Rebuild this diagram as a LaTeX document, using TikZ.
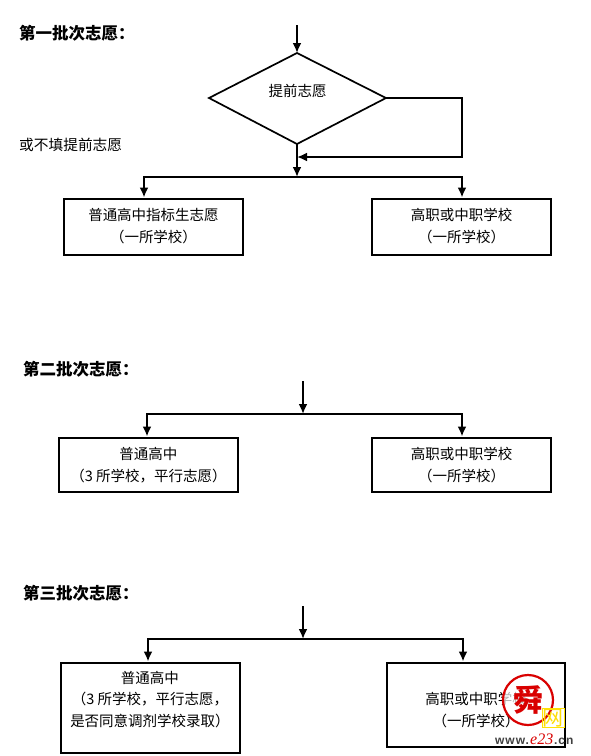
\documentclass[tikz,border=0pt]{standalone}
\usepackage{fontspec}
\usetikzlibrary{shapes.geometric,arrows.meta,positioning}
\setmainfont{Noto Sans CJK SC}
\newfontfamily\wmfont[LetterSpace=8]{Liberation Sans}
\newfontfamily\wmserif{Liberation Serif}
\begin{document}
\begin{tikzpicture}[x=1pt,y=-1pt,
  line/.style={draw=black,line width=2pt},
  arr/.style={line,-{Latex[length=10pt,width=9pt]}},
  boxn/.style={line,rectangle,inner sep=0pt,align=center,font=\fontsize{14.5}{22}\selectfont,anchor=north west},
  txt/.style={inner sep=0pt,align=center,font=\fontsize{14.5}{21.5}\selectfont},
  head/.style={anchor=west,font=\fontsize{16.5}{18}\selectfont\bfseries,inner sep=0pt},
  lab/.style={anchor=west,font=\fontsize{14.7}{16}\selectfont,inner sep=0pt}]
\useasboundingbox (0,0) rectangle (590,756);
\fill[white] (0,0) rectangle (590,756);

\node[head] (h1) at (19,33) {第一批次志愿：};
\node[head] (h2) at (23,369) {第二批次志愿：};
\node[head] (h3) at (23,593) {第三批次志愿：};
\node[lab] (or) at (19,144.5) {或不填提前志愿};

% first batch
\coordinate (t1) at (297,25);
\coordinate (dt) at (297,53);
\coordinate (dl) at (209,98);
\coordinate (dr) at (386,98);
\coordinate (db) at (297,144);
\draw[line,line width=1.7pt,line join=miter] (dt) -- (dr) -- (db) -- (dl) -- cycle;
\node[txt] (d) at (297.5,90.5) {提前志愿};
\draw[arr] (t1) -- (dt);
\coordinate (bus1) at (297,177);
\coordinate (ret) at (297,157);
\draw[arr] (db) -- (bus1);
\draw[arr] (dr) -- (462,98) -- (462,157) -- (ret);
\node[boxn,minimum width=179pt,minimum height=56pt] (a1) at (63,197.5) {普通高中指标生志愿\\（一所学校）};
\node[boxn,minimum width=179pt,minimum height=56pt] (a2) at (371,197.5) {高职或中职学校\\（一所学校）};
\draw[arr] (bus1) -| (a1.north -| 144,0);
\draw[arr] (bus1) -| (a2.north -| 462,0);

% second batch
\coordinate (t2) at (303,381);
\coordinate (bus2) at (303,414);
\draw[arr] (t2) -- (bus2);
\node[boxn,minimum width=179pt,minimum height=54.5pt] (b1) at (58,436.5) {普通高中\\（3 所学校，平行志愿）};
\node[boxn,minimum width=179pt,minimum height=54.5pt] (b2) at (371,436.5) {高职或中职学校\\（一所学校）};
\draw[arr] (bus2) -| (b1.north -| 147,0);
\draw[arr] (bus2) -| (b2.north -| 462,0);

% third batch
\coordinate (t3) at (303,606);
\coordinate (bus3) at (303,639);
\draw[arr] (t3) -- (bus3);
\node[boxn,minimum width=179pt,minimum height=90pt] (c1) at (60,661.5) {};
\node[txt] (c1t) at (150,699.5) {普通高中\\（3 所学校，平行志愿，\\是否同意调剂学校录取）};
\node[boxn,minimum width=178pt,minimum height=84pt] (c2) at (386,661.5) {};
\node[txt] (c2t) at (476,710) {高职或中职学校\\（一所学校）};
\draw[arr] (bus3) -| (c1.north -| 148,0);
\draw[arr] (bus3) -| (c2.north -| 463,0);

% watermark
\node[circle,draw=red!85!black,line width=2.2pt,fill=white,fill opacity=0.7,text opacity=1,minimum size=50pt,inner sep=0pt,text=red!85!black,font=\fontsize{30}{30}\selectfont\bfseries] (stamp) at (528,700) {舜};
\node[draw=yellow!85!orange,line width=1pt,text=yellow!80!orange,inner sep=0.5pt,font=\fontsize{21}{21}\selectfont] (wang) at (553,718) {网};
\node[anchor=west,inner sep=0pt,text=black!75,font=\wmfont\fontsize{12}{12}\selectfont\bfseries] (www) at (495,741) {www.};
\node[anchor=west,inner sep=0pt,text=red!85!black,font=\wmserif\fontsize{16}{16}\selectfont\itshape] (e23) at (530,739) {e23};
\node[anchor=west,inner sep=0pt,text=black!75,font=\wmfont\fontsize{12}{12}\selectfont\bfseries] (cn) at (554,741) {.cn};
\end{tikzpicture}
\end{document}
